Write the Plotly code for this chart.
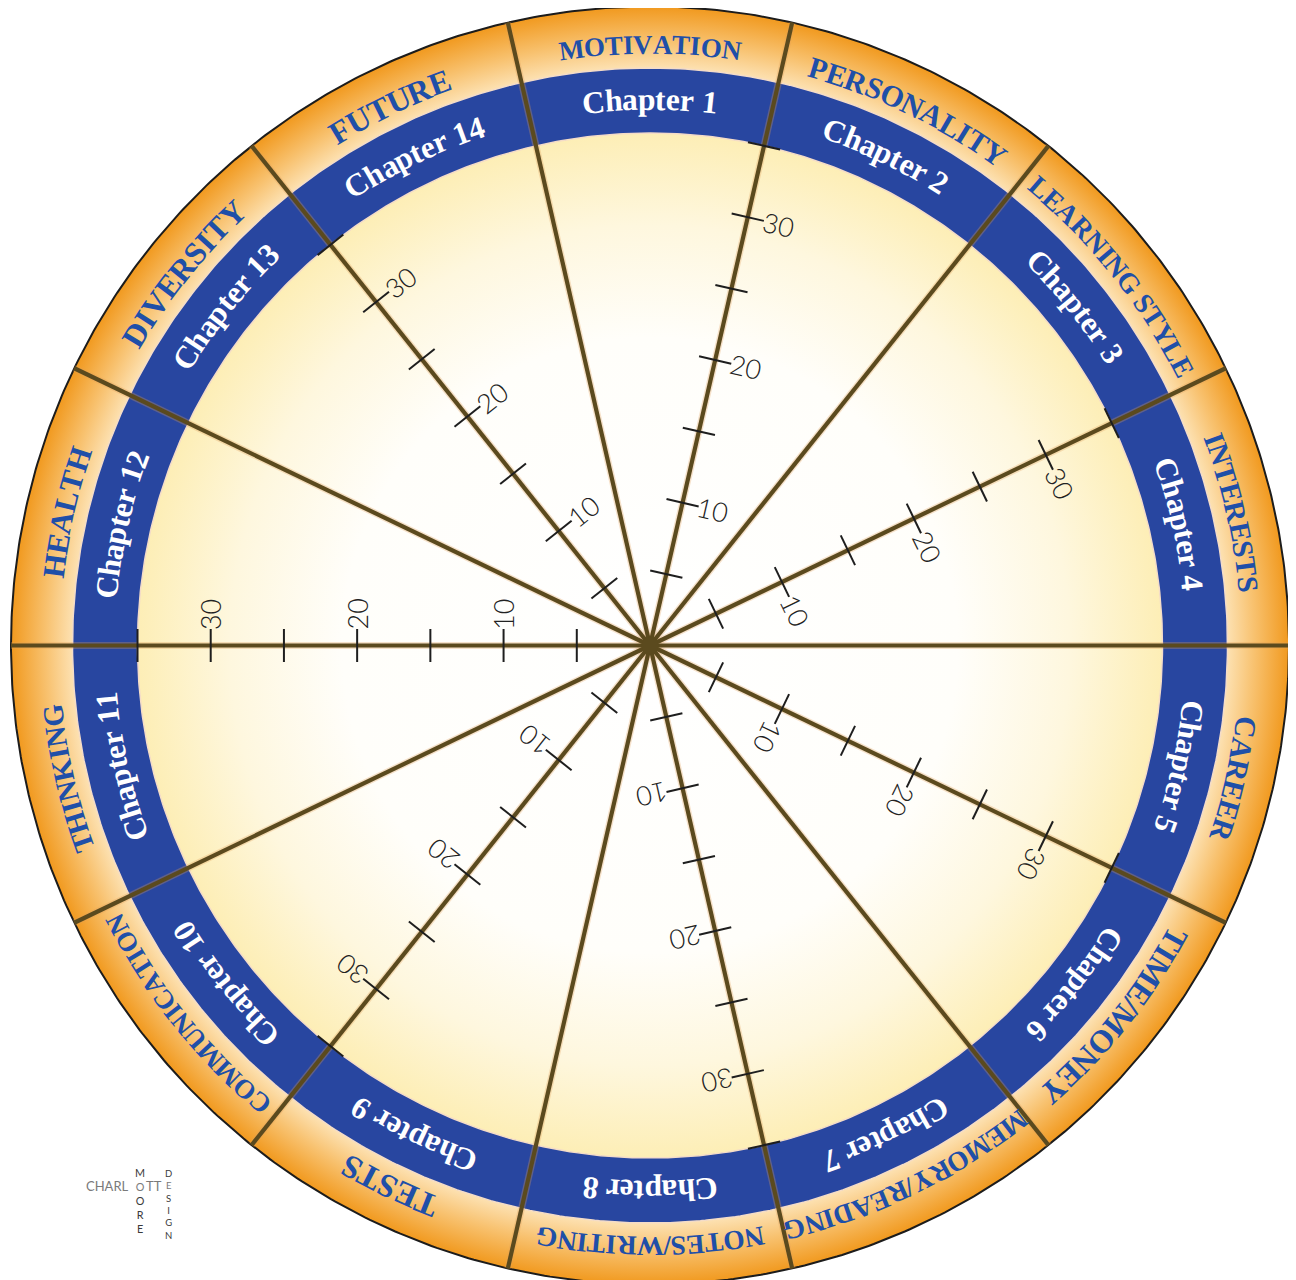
import math
import plotly.graph_objects as go

# ---------------- data ----------------
CHAPTERS = ["Chapter 1", "Chapter 2", "Chapter 3", "Chapter 4", "Chapter 5",
            "Chapter 6", "Chapter 7", "Chapter 8", "Chapter 9", "Chapter 10",
            "Chapter 11", "Chapter 12", "Chapter 13", "Chapter 14"]
TOPICS = ["MOTIVATION", "PERSONALITY", "LEARNING STYLE", "INTERESTS", "CAREER",
          "TIME/MONEY", "MEMORY/READING", "NOTES/WRITING", "TESTS",
          "COMMUNICATION", "THINKING", "HEALTH", "DIVERSITY", "FUTURE"]
SCALE_TICKS = [5, 10, 15, 20, 25, 30, 35]
SCALE_LABELS = [10, 20, 30]
SCALE_MAX = 35
SCALED_AFTER = [1, 3, 5, 7, 9, 11, 13]   # scale drawn on the boundary after these chapters

# ---------------- styles / geometry ----------------
TOPIC_SIZE = [27, 30, 28, 29, 30, 32, 27.5, 27.5, 33, 27, 29, 31, 32, 32]
CHAP_SIZE = 31.5
W, H = 1288, 1272
PAGE_MARGIN = 8
CX, CY = 650.0, 645.5          # centre on the page (px)
R_OUT, R_BLUE, R_IN = 639.0, 577.5, 512.5
R_CHAP, R_TOPIC = 546.0, 601.0
K = R_IN / SCALE_MAX           # px per scale unit
N = len(CHAPTERS)
STEP = 360.0 / N
CXF, CYF = CX - PAGE_MARGIN, CY - PAGE_MARGIN

LINE_COL = "#5b4a1e"
BLUE = "#2846a0"
TOPIC_COL = "#1f4fa8"
LOGO_GREY = "#7a7a7a"
LOGO_DARK = "#3a3a3a"

TB = {' ': 250, '/': 278, 'A': 722, 'B': 667, 'C': 722, 'D': 722, 'E': 667, 'F': 611, 'G': 778,
      'H': 778, 'I': 389, 'J': 500, 'K': 778, 'L': 667, 'M': 944, 'N': 722, 'O': 778, 'P': 611,
      'Q': 778, 'R': 722, 'S': 556, 'T': 667, 'U': 722, 'V': 722, 'W': 1000, 'X': 722, 'Y': 722,
      'Z': 667, 'a': 500, 'b': 556, 'c': 444, 'd': 556, 'e': 444, 'f': 333, 'g': 500, 'h': 556,
      'i': 278, 'j': 333, 'k': 556, 'l': 278, 'm': 833, 'n': 556, 'o': 500, 'p': 556, 'q': 556,
      'r': 444, 's': 389, 't': 333, 'u': 556, 'v': 500, 'w': 722, 'x': 500, 'y': 500, 'z': 444}
for d in "0123456789":
    TB[d] = 500


def pol(r, deg):
    a = math.radians(deg)
    return r * math.sin(a), r * math.cos(a)


def scr(sx, sy):
    return (sx - CX) / K, (CY - sy) / K


def norm(deg):
    return ((deg + 180.0) % 360.0) - 180.0


def circle(rpx, n=721):
    xs, ys = [], []
    for i in range(n):
        x, y = pol(rpx / K, i * 360.0 / (n - 1))
        xs.append(x)
        ys.append(y)
    return xs, ys


fig = go.Figure()

# orange outer ring
xs, ys = circle(R_OUT)
fig.add_trace(go.Scatter(x=xs, y=ys, mode="lines", fill="toself",
                         fillgradient=dict(type="radial",
                                           colorscale=[[0, "#fff2dc"], [0.9, "#fde4b8"],
                                                       [0.945, "#f8c270"], [1, "#f1991e"]]),
                         line=dict(color="#1c1c1c", width=2), hoverinfo="skip"))
# blue ring
xs, ys = circle(R_BLUE)
fig.add_trace(go.Scatter(x=xs, y=ys, mode="lines", fill="toself", fillcolor=BLUE,
                         line=dict(color="#f4dcc8", width=1.5), hoverinfo="skip"))
# inner disc
xs, ys = circle(R_IN)
fig.add_trace(go.Scatter(x=xs, y=ys, mode="lines", fill="toself",
                         fillgradient=dict(type="radial",
                                           colorscale=[[0, "#ffffff"], [0.6, "#fffefa"],
                                                       [0.82, "#fef7de"], [1, "#fdeeb6"]]),
                         line=dict(color="#f4dcc8", width=1.5), hoverinfo="skip"))

# sector boundaries
bx, by = [], []
for k in range(1, N + 1):
    x1, y1 = pol(R_OUT / K, (k - 0.5) * STEP)
    bx += [0, x1, None]
    by += [0, y1, None]
fig.add_trace(go.Scatter(x=bx, y=by, mode="lines", line=dict(color="rgba(226,160,90,0.3)", width=7),
                         hoverinfo="skip"))
fig.add_trace(go.Scatter(x=bx, y=by, mode="lines", line=dict(color=LINE_COL, width=4.2),
                         hoverinfo="skip"))

# scale ticks
tx, ty = [], []
half = 16.5 / K
for k in SCALED_AFTER:
    d = (k - 0.5) * STEP
    a = math.radians(d)
    ux, uy = math.cos(a), -math.sin(a)
    for v in SCALE_TICKS:
        x0, y0 = pol(v, d)
        tx += [x0 - ux * half, x0 + ux * half, None]
        ty += [y0 - uy * half, y0 + uy * half, None]
fig.add_trace(go.Scatter(x=tx, y=ty, mode="lines", line=dict(color="#1e1e1e", width=2),
                         hoverinfo="skip"))

# centre hub
fig.add_trace(go.Scatter(x=[0], y=[0], mode="markers",
                         marker=dict(size=17, color=LINE_COL), hoverinfo="skip"))

ann = []

# scale labels
LAB_SIZE = 27
for k in SCALED_AFTER:
    d = (k - 0.5) * STEP
    a = math.radians(d)
    ux, uy = math.cos(a), -math.sin(a)
    for v in SCALE_LABELS:
        s = str(v)
        tw = len(s) * 0.56 * LAB_SIZE
        off = (16.0 + tw / 2.0) / K
        x0, y0 = pol(v, d)
        ann.append(dict(x=x0 + ux * off, y=y0 + uy * off, xref="x", yref="y", text=s,
                        showarrow=False, textangle=norm(d), xanchor="center", yanchor="middle",
                        font=dict(family="Lato", size=LAB_SIZE, color="#222222", weight=300)))


def arc_text(text, center_deg, rpx, size, family, color):
    widths = [TB.get(c, 600) / 1000.0 * size for c in text]
    total = sum(widths)
    s = -total / 2.0
    for c, w in zip(text, widths):
        mid = s + w / 2.0
        s += w
        if c == " ":
            continue
        deg = center_deg + math.degrees(mid / rpx)
        x, y = pol(rpx / K, deg)
        ann.append(dict(x=x, y=y, xref="x", yref="y", text=c, showarrow=False,
                        textangle=norm(deg), xanchor="center", yanchor="middle",
                        font=dict(family=family, size=size, color=color, weight="bold")))


for i, (ch, tp) in enumerate(zip(CHAPTERS, TOPICS)):
    ca = i * STEP
    arc_text(ch, ca, R_CHAP, CHAP_SIZE, "Liberation Serif", "#ffffff")
    arc_text(tp, ca, R_TOPIC, TOPIC_SIZE[i], "Liberation Serif", TOPIC_COL)

# logo (crossword: CHARLOTTE across, MOORE and DESIGN down)
ROW_Y = 1186
x, y = scr(131, ROW_Y)
ann.append(dict(x=x, y=y, xref="x", yref="y", text="CHARL", showarrow=False,
                xanchor="right", yanchor="middle",
                font=dict(family="Lato", size=13, color=LOGO_GREY)))
x, y = scr(154, ROW_Y)
ann.append(dict(x=x, y=y, xref="x", yref="y", text="TT", showarrow=False,
                xanchor="center", yanchor="middle",
                font=dict(family="Lato", size=13, color=LOGO_GREY)))
s1 = 10.8
x, y = scr(140, ROW_Y + 1.0 * 1.3 * s1)
ann.append(dict(x=x, y=y, xref="x", yref="y",
                text="M<br><span style='color:%s'>O</span><br>O<br>R<br>E" % LOGO_GREY,
                showarrow=False, xanchor="center", yanchor="middle", align="center",
                font=dict(family="Lato", size=s1, color=LOGO_DARK)))
s2 = 9.5
x, y = scr(168, ROW_Y + 1.5 * 1.3 * s2)
ann.append(dict(x=x, y=y, xref="x", yref="y",
                text="D<br><span style='color:%s'>E</span><br>S<br>I<br>G<br>N" % LOGO_GREY,
                showarrow=False, xanchor="center", yanchor="middle", align="center",
                font=dict(family="Lato", size=s2, color=LOGO_DARK)))

fig.update_layout(
    width=W, height=H, margin=dict(l=0, r=0, t=0, b=0),
    paper_bgcolor="#ffffff", plot_bgcolor="#ffffff", showlegend=False,
    xaxis=dict(visible=False, range=[-CXF / K, (W - CXF) / K]),
    yaxis=dict(visible=False, range=[-(H - CYF) / K, CYF / K]),
    annotations=ann,
)
fig.write_html("out.html")
